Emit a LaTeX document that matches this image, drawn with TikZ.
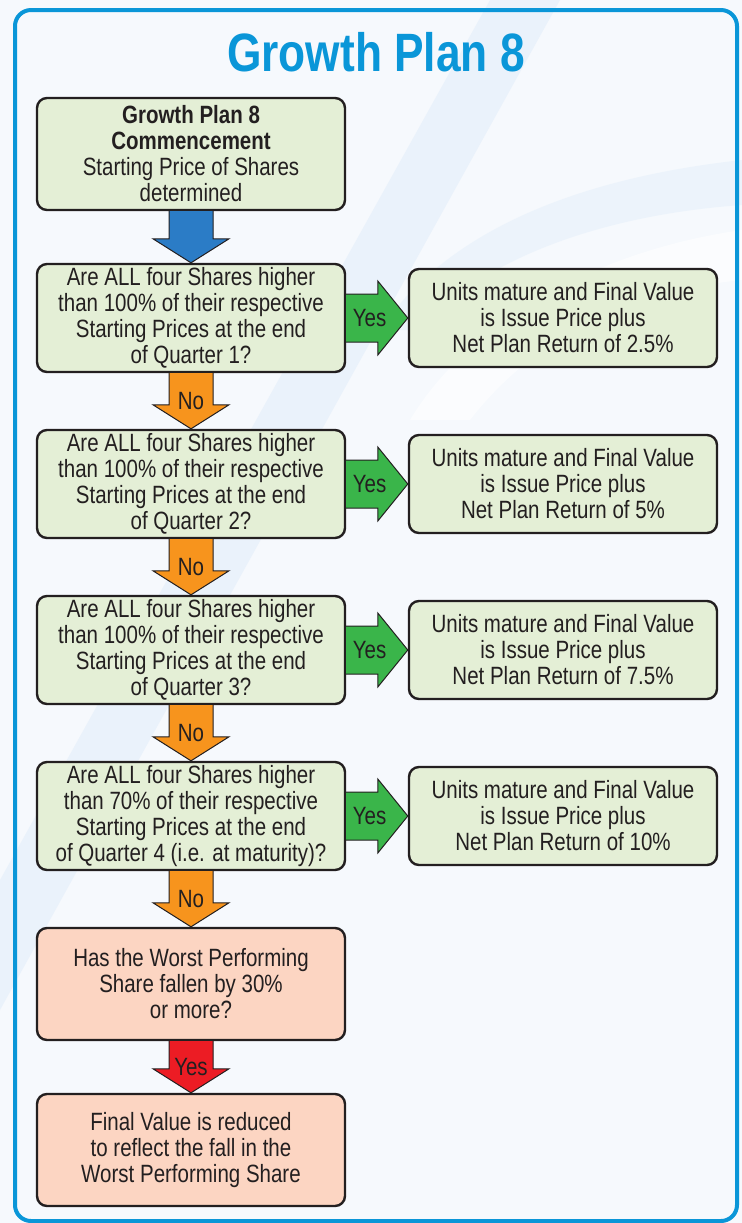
\documentclass[tikz,border=0pt]{standalone}
\usepackage{fontspec}
\setmainfont[FakeStretch=0.82]{Liberation Sans}
\usetikzlibrary{calc}
\usetikzlibrary{positioning}
\definecolor{framebl}{HTML}{0A96D8}
\definecolor{boxgreen}{HTML}{E4EFD6}
\definecolor{boxpink}{HTML}{FCD5C2}
\definecolor{inkgray}{HTML}{231F20}
\definecolor{arrblue}{HTML}{2B7CC6}
\definecolor{arrorange}{HTML}{F7941D}
\definecolor{arrgreen}{HTML}{3AB54A}
\definecolor{arrred}{HTML}{EC1C24}
\definecolor{bgsoft}{HTML}{F6F9FD}
\definecolor{bgblue}{HTML}{D6E7F8}
\tikzset{
  flowbox/.style={draw=inkgray, line width=1.2pt, rounded corners=5pt, align=center,
    text=inkgray, font=\fontsize{12.5}{13}\selectfont, inner sep=0pt},
  askbox/.style={flowbox, fill=boxgreen, minimum width=154pt, minimum height=54pt},
  endbox/.style={flowbox, fill=boxgreen, minimum width=154pt, minimum height=49pt},
  lossbox/.style={flowbox, fill=boxpink, minimum width=154pt, minimum height=56pt},
  fatarrow/.style={draw=inkgray, line width=0.5pt, line join=miter},
  arrlabel/.style={text=inkgray, font=\fontsize{12.5}{13}\selectfont, inner sep=0pt}
}
% fat arrow down: from, to, colour, label
\newcommand{\downarr}[4]{\draw[fatarrow, fill=#3] ($(#1.south)+(-22,0)$) -- ($(#2.north)+(-22,24)$) -- ($(#2.north)+(-38,24)$) -- (#2.north) -- ($(#2.north)+(38,24)$) -- ($(#2.north)+(22,24)$) -- ($(#1.south)+(22,0)$);
\node[arrlabel] (#1lbl) at ($(#1.south)!0.5!(#2.north)$) {#4};}
% fat arrow right: from, to, label
\newcommand{\rightarr}[3]{\draw[fatarrow, fill=arrgreen] ($(#1.east |- #2.west)+(0,24)$) -- ($(#2.west)+(-30,24)$) -- ($(#2.west)+(-30,37)$) -- (#2.west) -- ($(#2.west)+(-30,-37)$) -- ($(#2.west)+(-30,-24)$) -- ($(#1.east |- #2.west)+(0,-24)$);
\node[arrlabel] (#1lbl) at ($(#1.east |- #2.west)!0.38!(#2.west)$) {#3};}

\begin{document}
\begin{tikzpicture}[x=0.5pt, y=0.5pt]
\useasboundingbox (0,0) rectangle (742,-1223);
% background
\fill[bgsoft] (0,0) rectangle (742,-1223);
\fill[bgblue, opacity=0.35] (490,0) -- (560,0) -- (0,-1010) -- (0,-880) -- cycle;
\fill[bgblue, opacity=0.3] (742,-160) .. controls (560,-180) and (440,-240) .. (380,-330) -- (420,-330) .. controls (480,-260) and (600,-215) .. (742,-205) -- cycle;
\fill[white, opacity=0.6] (742,-230) .. controls (600,-250) and (470,-320) .. (410,-420) -- (470,-420) .. controls (540,-330) and (640,-290) .. (742,-280) -- cycle;
\draw[framebl, line width=2pt, rounded corners=8pt] (15,-10) rectangle (737,-1221);
% title
\node[text=framebl, font=\fontsize{27}{30}\selectfont\bfseries, anchor=base] (title) at (376,-71) {Growth Plan 8};
% left column
\node[askbox, minimum height=56pt] (start) at (191,-154) {\textbf{Growth Plan 8}\\\textbf{Commencement}\\Starting Price of Shares\\determined};
\node[askbox, below=25.8pt of start] (q1) {Are ALL four Shares higher\\than 100\% of their respective\\Starting Prices at the end\\of Quarter 1?};
\node[askbox, below=27.8pt of q1] (q2) {Are ALL four Shares higher\\than 100\% of their respective\\Starting Prices at the end\\of Quarter 2?};
\node[askbox, below=27.8pt of q2] (q3) {Are ALL four Shares higher\\than 100\% of their respective\\Starting Prices at the end\\of Quarter 3?};
\node[askbox, below=27.8pt of q3] (q4) {Are ALL four Shares higher\\than 70\% of their respective\\Starting Prices at the end\\of Quarter 4 (i.e. at maturity)?};
\node[lossbox, below=27.8pt of q4] (fall) {Has the Worst Performing\\Share fallen by 30\%\\or more?};
\node[lossbox, below=25.8pt of fall] (final) {Final Value is reduced\\to reflect the fall in the\\Worst Performing Share};
% right column
\node[endbox, right=30.8pt of q1] (r1) {Units mature and Final Value\\is Issue Price plus\\Net Plan Return of 2.5\%};
\node[endbox, right=30.8pt of q2] (r2) {Units mature and Final Value\\is Issue Price plus\\Net Plan Return of 5\%};
\node[endbox, right=30.8pt of q3] (r3) {Units mature and Final Value\\is Issue Price plus\\Net Plan Return of 7.5\%};
\node[endbox, right=30.8pt of q4] (r4) {Units mature and Final Value\\is Issue Price plus\\Net Plan Return of 10\%};
% arrows
\downarr{start}{q1}{arrblue}{}
\downarr{q1}{q2}{arrorange}{No}
\downarr{q2}{q3}{arrorange}{No}
\downarr{q3}{q4}{arrorange}{No}
\downarr{q4}{fall}{arrorange}{No}
\downarr{fall}{final}{arrred}{Yes}
\rightarr{q1}{r1}{Yes}
\rightarr{q2}{r2}{Yes}
\rightarr{q3}{r3}{Yes}
\rightarr{q4}{r4}{Yes}
\end{tikzpicture}
\end{document}
